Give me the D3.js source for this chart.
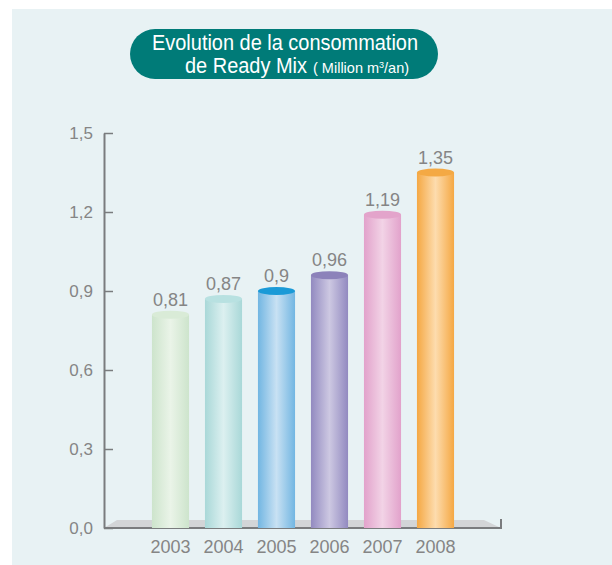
<!DOCTYPE html>
<html>
<head>
<meta charset="utf-8">
<script src="https://cdn.jsdelivr.net/npm/d3@7/dist/d3.min.js"></script>
<style>
  html, body { margin: 0; padding: 0; background: #fff; }
  svg { display: block; }
</style>
</head>
<body>
<div id="chart"></div>
<script>
const years = ["2003", "2004", "2005", "2006", "2007", "2008"];
const values = [0.81, 0.87, 0.9, 0.96, 1.19, 1.35];
const valueLabels = ["0,81", "0,87", "0,9", "0,96", "1,19", "1,35"];
const yTicks = [0, 0.3, 0.6, 0.9, 1.2, 1.5];
// edge, centre, top colour for each cylinder
const barEdge = ["#cde4cc", "#a9d8d8", "#72b6e2", "#928ac0", "#e2a2cb", "#f5a843"];
const barMid  = ["#eaf4e8", "#dcf0f0", "#c8e1f3", "#cdc8e2", "#f2d3e6", "#fddcae"];
const barTop  = ["#d9ebd7", "#b8e1e1", "#1a9ad7", "#8c82ba", "#e3a4cb", "#f4a944"];

const W = 612, H = 565;
const svg = d3.select("#chart").append("svg").attr("width", W).attr("height", H);

// panel background
svg.append("rect").attr("x", 12).attr("y", 9).attr("width", W - 12).attr("height", H - 9)
  .attr("fill", "#e8f2f4");

// title pill
const narrow = "'Liberation Sans Narrow', 'Arial Narrow', 'Liberation Sans', sans-serif";
const tg = svg.append("g");
tg.append("rect").attr("x", 130).attr("y", 29).attr("width", 308).attr("height", 50)
  .attr("rx", 25).attr("fill", "#007b78");
tg.append("text").text("Evolution de la consommation")
  .attr("x", 152).attr("y", 50).attr("textLength", 266).attr("lengthAdjust", "spacingAndGlyphs")
  .style("font-family", narrow).style("font-size", "22px").style("fill", "#fff");
tg.append("text").text("de Ready Mix")
  .attr("x", 185).attr("y", 73).attr("textLength", 122).attr("lengthAdjust", "spacingAndGlyphs")
  .style("font-family", narrow).style("font-size", "22px").style("fill", "#fff");
const sub = tg.append("text").attr("x", 313).attr("y", 73)
  .style("font-family", narrow).style("font-size", "14.5px").style("fill", "#fff");
sub.append("tspan").text("( Million m");
sub.append("tspan").text("3").attr("dy", -5).style("font-size", "9px");
sub.append("tspan").text("/an)").attr("dy", 5);

// scales
const x0 = 104, x1 = 501, yBase = 528;
const y = d3.scaleLinear().domain([0, 1.5]).range([yBase, 133]);
const x = d3.scaleBand().domain(years).range([144, 462]).paddingInner(0.3).paddingOuter(0.15);

const axisColor = "#7a7c7e";
const labelColor = "#858585";

// floor
svg.append("path")
  .attr("d", `M${x0},${yBase} L${x0 + 13},${yBase - 8} L${x1 - 17},${yBase - 8} L${x1},${yBase} Z`)
  .attr("fill", "#d3d5d7");

// y axis
const yAxis = svg.append("g").attr("transform", `translate(${x0},0)`)
  .call(d3.axisLeft(y).tickValues(yTicks).tickSizeInner(-9).tickSizeOuter(0).tickPadding(11)
    .tickFormat(d => d3.format(".1f")(d).replace(".", ",")));
yAxis.selectAll("line").style("stroke", axisColor).style("stroke-width", 1.5);
yAxis.select(".domain").style("stroke", axisColor).style("stroke-width", 2);
yAxis.selectAll("text").style("fill", labelColor).style("font-family", narrow).style("font-size", "17px");

// x axis baseline with end tick
svg.append("path").attr("d", `M${x0},${yBase} L${x1},${yBase} L${x1},${yBase - 9}`)
  .attr("fill", "none").attr("stroke", axisColor).attr("stroke-width", 2);

// gradients
const defs = svg.append("defs");
years.forEach((yr, i) => {
  const g = defs.append("linearGradient").attr("id", "g" + i)
    .attr("x1", 0).attr("x2", 1).attr("y1", 0).attr("y2", 0);
  [[0, barEdge[i]], [0.5, barMid[i]], [1, barEdge[i]]].forEach(([o, c]) =>
    g.append("stop").attr("offset", o).attr("stop-color", c));
});

// cylinders
const bw = x.bandwidth();
const ry = 4;
const bars = svg.selectAll(".bar").data(years).join("g").attr("class", "bar");
bars.append("rect")
  .attr("x", d => x(d)).attr("y", (d, i) => y(values[i]))
  .attr("width", bw).attr("height", (d, i) => yBase - y(values[i]))
  .attr("fill", (d, i) => `url(#g${i})`);
bars.append("ellipse")
  .attr("cx", d => x(d) + bw / 2).attr("cy", (d, i) => y(values[i]))
  .attr("rx", bw / 2).attr("ry", ry)
  .attr("fill", (d, i) => barTop[i]);
bars.append("text").text((d, i) => valueLabels[i])
  .attr("x", d => x(d) + bw / 2).attr("y", (d, i) => y(values[i]) - 9)
  .attr("text-anchor", "middle")
  .style("fill", labelColor).style("font-family", narrow).style("font-size", "18px");

// year labels
svg.selectAll(".yr").data(years).join("text").attr("class", "yr").text(d => d)
  .attr("x", d => x(d) + bw / 2).attr("y", 553).attr("text-anchor", "middle")
  .style("fill", labelColor).style("font-family", narrow).style("font-size", "18px");
</script>
</body>
</html>
